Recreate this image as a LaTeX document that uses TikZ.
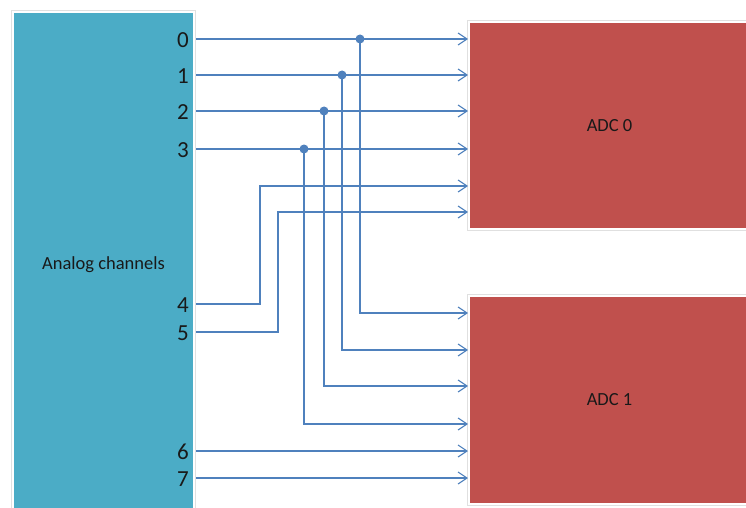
\documentclass[tikz,border=0pt]{standalone}
\usepackage{fontspec}
\setmainfont{Carlito}
\usetikzlibrary{arrows.meta}

\definecolor{chanblue}{HTML}{4BACC6}
\definecolor{adcred}{HTML}{C0504D}
\definecolor{wireblue}{HTML}{4F81BD}

\tikzset{
	block/.style={draw=white, line width=4pt, preaction={draw=black!12, line width=5.5pt},
		postaction={fill=#1}, inner sep=0pt, text=black!90, font=\fontsize{18.5}{20}\selectfont},
	wire/.style={draw=wireblue, line width=1.1pt},
	feed/.style={wire, -{Straight Barb[length=9pt,width=12pt]}},
	tap/.style={circle, fill=wireblue, inner sep=0pt, minimum size=9pt},
	chan/.style={anchor=east, inner sep=0pt, text=black!90, font=\fontsize{23}{23}\selectfont},
}

\begin{document}
\begin{tikzpicture}[x=1pt,y=-1pt]
	\fill[white] (0,0) rectangle (746,508);
	\useasboundingbox (0,0) rectangle (746,508);

	% channel block and the two converters
	\node[block=chanblue, minimum width=179pt, minimum height=504pt] (chans) at (103.5,265) {Analog channels};
	\node[block=adcred, minimum width=279pt, minimum height=205pt] (adc0) at (609.5,125.5) {ADC 0};
	\node[block=adcred, minimum width=279pt, minimum height=206pt] (adc1) at (609.5,400) {ADC 1};

	% channel numbers and wire starts
	\foreach \n/\y in {0/39,1/75,2/111,3/149,4/304,5/332,6/451,7/478} {
		\node[chan] (lab\n) at (189,\y+1) {\n};
		\coordinate (ch\n) at (196,\y);
	}

	% converter inputs
	\foreach \k/\y in {1/39,2/75,3/111,4/149,5/186,6/212}
		\coordinate (adc0-in\k) at (adc0.west |- 0,\y);
	\foreach \k/\y in {1/313,2/350,3/386,4/424,5/451,6/478}
		\coordinate (adc1-in\k) at (adc1.west |- 0,\y);

	% channels 0-3 go to both converters
	\foreach \n/\x/\y/\k in {0/360/39/1,1/342/75/2,2/324/111/3,3/304/149/4} {
		\coordinate (t\n) at (\x,\y);
		\draw[feed] (ch\n) -- (adc0-in\k);
		\draw[feed] (t\n) |- (adc1-in\k);
		\node[tap] (tap\n) at (t\n) {};
	}

	% channels 4,5 only on ADC 0, 6,7 only on ADC 1
	\draw[feed] (ch4) -- ++(64,0) |- (adc0-in5);
	\draw[feed] (ch5) -- ++(82,0) |- (adc0-in6);
	\draw[feed] (ch6) -- (adc1-in5);
	\draw[feed] (ch7) -- (adc1-in6);
\end{tikzpicture}
\end{document}
